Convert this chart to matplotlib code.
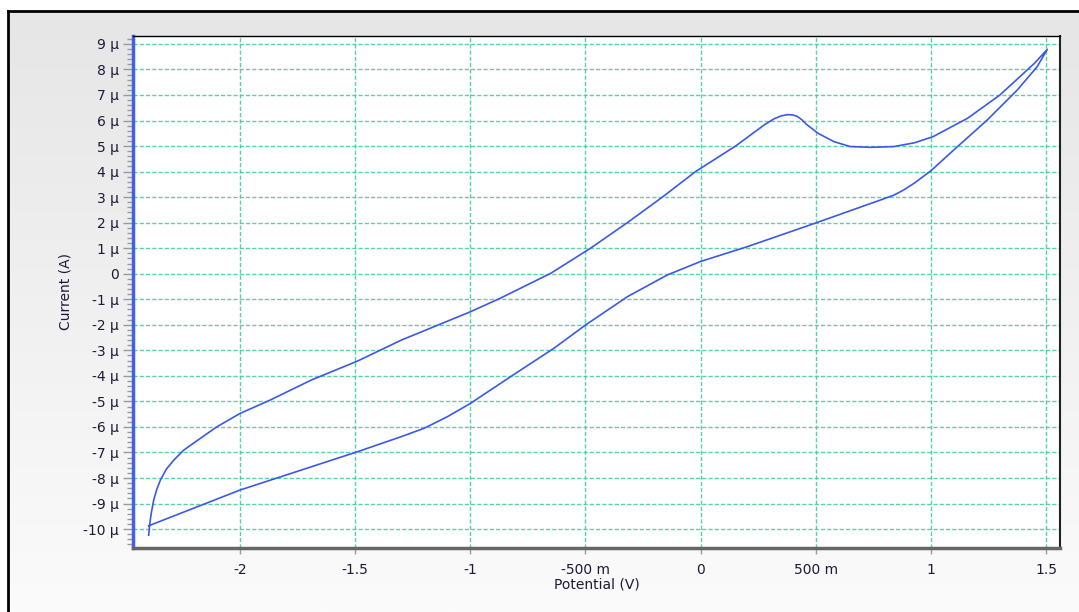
import numpy as np
import matplotlib
matplotlib.use('Agg')
import matplotlib.pyplot as plt
from matplotlib.colors import LinearSegmentedColormap
from matplotlib.ticker import MultipleLocator

# ---- data (V, uA) ----
# forward scan (upper branch), left -> right
fwd_potential = [-2.397, -2.392, -2.386, -2.375, -2.362, -2.346, -2.32, -2.288, -2.245,
                 -2.20, -2.10, -2.00, -1.87, -1.69, -1.49, -1.30, -1.00, -0.87, -0.74,
                 -0.65, -0.478, -0.318, -0.166, -0.022, 0.152, 0.23, 0.28, 0.32, 0.35,
                 0.377, 0.40, 0.42, 0.44, 0.46, 0.51, 0.58, 0.65, 0.74, 0.84, 0.93,
                 1.01, 1.16, 1.30, 1.45, 1.506]
fwd_current = [-10.24, -9.78, -9.39, -8.86, -8.45, -8.08, -7.65, -7.30, -6.91,
               -6.62, -5.99, -5.47, -4.95, -4.16, -3.42, -2.60, -1.49, -0.96, -0.38,
               0.02, 1.0, 2.0, 3.0, 4.0, 5.0, 5.52, 5.85, 6.07, 6.18,
               6.23, 6.22, 6.16, 6.03, 5.85, 5.50, 5.17, 4.98, 4.95, 4.98, 5.13,
               5.37, 6.09, 7.0, 8.24, 8.79]

# reverse scan (lower branch), right -> left
rev_potential = [1.506, 1.462, 1.376, 1.245, 1.10, 1.0, 0.927, 0.88, 0.84, 0.782, 0.504,
                 0.203, 0.0, -0.145, -0.318, -0.5, -0.637, -0.825, -1.0, -1.10,
                 -1.20, -1.30, -1.49, -2.0, -2.397]
rev_current = [8.79, 8.11, 7.2, 6.02, 4.85, 4.03, 3.54, 3.27, 3.08, 2.89, 2.0,
               1.06, 0.48, -0.05, -0.90, -2.01, -2.92, -4.03, -5.08, -5.60,
               -6.05, -6.38, -6.97, -8.47, -9.87]

x_ticks = [-2, -1.5, -1, -0.5, 0, 0.5, 1, 1.5]
x_tick_labels = ['-2', '-1.5', '-1', '-500 m', '0', '500 m', '1', '1.5']
y_ticks = list(range(-10, 10))
y_tick_labels = [f'{v} μ' if v != 0 else '0' for v in y_ticks]

W, H = 1079, 612
fig = plt.figure(figsize=(W / 100, H / 100), dpi=100)
fig.patch.set_facecolor('white')

# gray gradient panel with black frame
bg = fig.add_axes([8 / W, 0, 1 - 8 / W, (H - 11) / H])
grad = np.linspace(0, 1, 256).reshape(-1, 1)
cmap = LinearSegmentedColormap.from_list('panel', ['#e6e6e6', '#fbfbfb'])
bg.imshow(grad, aspect='auto', cmap=cmap, extent=[0, 1, 0, 1], origin='upper')
bg.set_xticks([])
bg.set_yticks([])
for s in ['right', 'bottom']:
    bg.spines[s].set_visible(False)
for s in ['left', 'top']:
    bg.spines[s].set_color('black')
    bg.spines[s].set_linewidth(2)

# main axes
ax = fig.add_axes([133 / W, (H - 548) / H, (1060 - 133) / W, (548 - 36) / H])
ax.set_facecolor('white')

potential = fwd_potential + rev_potential
current = fwd_current + rev_current
ax.plot(potential, current, color='#3a5ae6', lw=1.2, zorder=3)

ax.set_xlim(-2.465, 1.561)
ax.set_ylim(-10.74, 9.31)

ax.set_xticks(x_ticks)
ax.set_xticklabels(x_tick_labels)
ax.set_yticks(y_ticks)
ax.set_yticklabels(y_tick_labels)
ax.yaxis.set_minor_locator(MultipleLocator(0.2))

txt_color = '#1e1a38'
ax.tick_params(axis='both', which='major', colors='#9a9a9a', labelcolor=txt_color,
               labelsize=10)
ax.tick_params(axis='y', which='major', length=7, width=1, pad=3)
ax.tick_params(axis='y', which='minor', length=4.5, width=1, colors='#9a9a9a')
ax.tick_params(axis='x', which='major', length=4, width=1, pad=7)

ax.grid(True, which='major', color='#3cc99a', linestyle=(0, (3, 1.5)), lw=1, alpha=0.85)
ax.set_axisbelow(True)

ax.spines['left'].set_color('#3f62e8')
ax.spines['left'].set_linewidth(2.5)
ax.spines['bottom'].set_color('#666666')
ax.spines['bottom'].set_linewidth(2.5)
ax.spines['top'].set_color('black')
ax.spines['top'].set_linewidth(1)
ax.spines['right'].set_color('#222222')
ax.spines['right'].set_linewidth(1.5)

ax.set_xlabel('Potential (V)', fontsize=10, color=txt_color, labelpad=0)
ax.set_ylabel('Current (A)', fontsize=10, color=txt_color, labelpad=8)

fig.savefig('out.png', dpi=100)
